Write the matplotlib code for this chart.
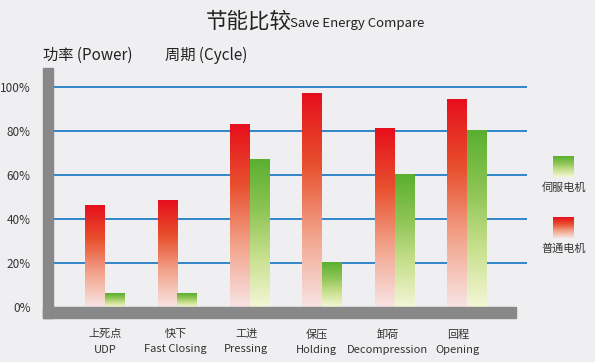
import numpy as np
import matplotlib
matplotlib.use("Agg")
import matplotlib.pyplot as plt
from matplotlib.patches import Rectangle
from matplotlib.colors import LinearSegmentedColormap

plt.rcParams['font.family'] = ['Noto Sans CJK SC', 'DejaVu Sans']

categories_cn = ["上死点", "快下", "工进", "保压", "卸荷", "回程"]
categories_en = ["UDP", "Fast Closing", "Pressing", "Holding", "Decompression", "Opening"]
normal_motor = [46, 48.5, 83, 97, 81, 94.5]   # 普通电机
servo_motor = [6, 6, 67, 20, 60, 80]          # 伺服电机
yticks = [0, 20, 40, 60, 80, 100]

W, H = 595, 362
bg = "#efeff1"
fig = plt.figure(figsize=(W/100, H/100), dpi=100, facecolor=bg)

def fx(px): return px / W
def fy(py): return 1 - py / H

XMIN, XMAX = -0.718, 5.829
ax = fig.add_axes([fx(53), fy(307), fx(527) - fx(53), fy(68) - fy(307)])
ax.set_facecolor(bg)
for s in ax.spines.values():
    s.set_visible(False)

for t in yticks[1:]:
    ax.axhline(t, color="#1f7fc6", lw=1.3, zorder=1)

red_cmap = LinearSegmentedColormap.from_list("r", ["#f8e4e4", "#f2a48c", "#e8502e", "#e60f1c"])
green_cmap = LinearSegmentedColormap.from_list("g", ["#f4f6d6", "#c8e08e", "#8cc453", "#5aaf30"])
grad = np.linspace(0, 1, 256).reshape(-1, 1)

bw = 0.274
x = np.arange(len(categories_cn))
bars_r = ax.bar(x - bw/2, normal_motor, bw, color="none", zorder=2)
bars_g = ax.bar(x + bw/2, servo_motor, bw, color="none", zorder=2)
for bars, cmap in ((bars_r, red_cmap), (bars_g, green_cmap)):
    for b in bars:
        x0, w, h = b.get_x(), b.get_width(), b.get_height()
        ax.imshow(grad, cmap=cmap, origin="lower", aspect="auto",
                  extent=(x0, x0 + w, 0, h), zorder=3, interpolation="bilinear")
ax.set_xlim(XMIN, XMAX)
ax.set_ylim(0, 108.6)

ax.set_yticks(yticks)
ax.set_yticklabels([f"{t}%" for t in yticks], fontsize=8.5, color="#333333")
ax.tick_params(axis="y", length=0, pad=16)
ax.set_xticks(x * 0.975)
ax.set_xticklabels([f"{c}\n{e}" for c, e in zip(categories_cn, categories_en)],
                   fontsize=8, color="#333333", linespacing=1.65)
ax.tick_params(axis="x", length=0, pad=16)

# thick gray axes
fig.add_artist(Rectangle((fx(43), fy(318)), fx(10), fy(68) - fy(318),
                         transform=fig.transFigure, color="#888888", zorder=5))
fig.add_artist(Rectangle((fx(43), fy(318)), fx(516) - fx(43), fy(307) - fy(318),
                         transform=fig.transFigure, color="#888888", zorder=5))

# title
fig.text(fx(206), fy(22), "节能比较", fontsize=15.5, color="#222222", va="center", ha="left")
fig.text(fx(290), fy(23.5), "Save Energy Compare", fontsize=9.5, color="#222222", va="center", ha="left")
fig.text(fx(43), fy(55), "功率 (Power)", fontsize=11, color="#222222", va="center", ha="left")
fig.text(fx(165), fy(55), "周期 (Cycle)", fontsize=11, color="#222222", va="center", ha="left")

# legend
for (py0, cmap, label, ly) in ((156, green_cmap, "伺服电机", 188), (217, red_cmap, "普通电机", 249)):
    lax = fig.add_axes([fx(553), fy(py0 + 21), fx(21), fy(py0) - fy(py0 + 21)])
    lax.imshow(grad, cmap=cmap, origin="lower", aspect="auto", interpolation="bilinear")
    lax.axis("off")
    fig.text(fx(564), fy(ly), label, fontsize=8, color="#333333", ha="center", va="center")

fig.savefig("out.png", dpi=100, facecolor=bg)
